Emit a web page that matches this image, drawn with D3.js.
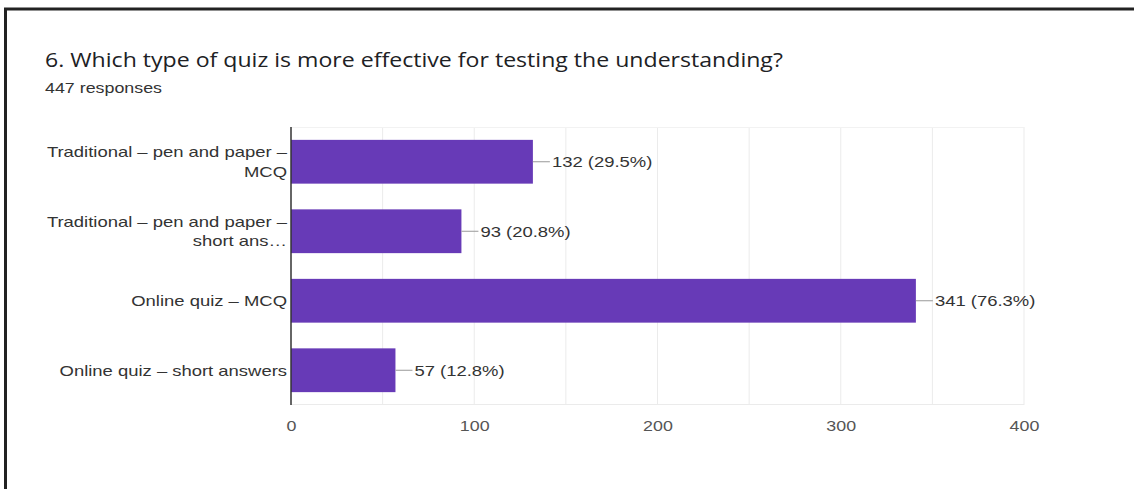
<!DOCTYPE html>
<html>
<head>
    <meta charset="utf-8">
    <title>Quiz type survey</title>
    <script src="https://d3js.org/d3.v7.min.js"></script>
    <style>
        html, body { margin: 0; padding: 0; background: #fff; }
        svg { display: block; font-family: "Liberation Sans", Arial, sans-serif; }
    </style>
</head>
<body>
    <svg id="chart" width="1134" height="489"></svg>
    <script>
        // data
        var categories = [
            ["Traditional \u2013 pen and paper \u2013", "MCQ"],
            ["Traditional \u2013 pen and paper \u2013", "short ans\u2026"],
            ["Online quiz \u2013 MCQ"],
            ["Online quiz \u2013 short answers"]
        ];
        var counts = [132, 93, 341, 57];
        var percents = ["29.5%", "20.8%", "76.3%", "12.8%"];
        var ticks = [0, 100, 200, 300, 400];
        var title = "6. Which type of quiz is more effective for testing the understanding?";
        var subtitle = "447 responses";

        // the screenshot is a bit stretched sideways, text gets the same stretch
        var SX = 1.23;

        var svg = d3.select("#chart");

        function place(x, y, sx) {
            return "translate(" + x + "," + y + ") scale(" + sx + ",1)";
        }

        // photo frame
        svg.append("line").attr("x1", 4).attr("x2", 1134).attr("y1", 9).attr("y2", 9)
            .attr("stroke", "#222").attr("stroke-width", 3);
        svg.append("line").attr("x1", 5.5).attr("x2", 5.5).attr("y1", 8).attr("y2", 489)
            .attr("stroke", "#222").attr("stroke-width", 3);

        svg.append("text").attr("transform", place(45, 67, 1.155)).text(title)
            .attr("font-family", "'Open Sans', sans-serif")
            .attr("font-size", "20px").attr("fill", "#202124");
        svg.append("text").attr("transform", place(45, 93, SX)).text(subtitle)
            .attr("font-size", "14.5px").attr("fill", "#333");

        var plotL = 291, plotR = 1024, plotT = 127, plotB = 405;

        var x = d3.scaleLinear().domain([0, 400]).range([plotL, plotR]);
        var y = d3.scaleBand().domain(d3.range(counts.length)).range([plotT, plotB])
            .paddingInner(0.37).paddingOuter(0.185);

        // grid every 50
        var grid = d3.range(50, 401, 50);
        svg.selectAll(".grid").data(grid).enter().append("line")
            .attr("class", "grid")
            .attr("x1", function(d) { return x(d); })
            .attr("x2", function(d) { return x(d); })
            .attr("y1", plotT).attr("y2", plotB)
            .attr("stroke", "#ebebeb").attr("stroke-width", 1);
        svg.append("line").attr("x1", plotL).attr("x2", plotR).attr("y1", plotT + 0.5).attr("y2", plotT + 0.5)
            .attr("stroke", "#f2f2f2");
        svg.append("line").attr("x1", plotL).attr("x2", plotR).attr("y1", plotB - 0.5).attr("y2", plotB - 0.5)
            .attr("stroke", "#ebebeb");

        // x axis labels
        var xAxis = d3.axisBottom(x).tickValues(ticks).tickSize(0).tickPadding(0);
        var ax = svg.append("g").attr("transform", "translate(0," + (plotB + 16) + ")").call(xAxis);
        ax.select(".domain").remove();
        ax.selectAll("text").attr("font-size", "14.5px").attr("fill", "#555").attr("font-family", null)
            .attr("transform", "scale(" + SX + ",1)");

        // bars
        svg.selectAll(".bar").data(counts).enter().append("rect")
            .attr("class", "bar")
            .attr("x", x(0))
            .attr("y", function(d, i) { return y(i); })
            .attr("width", function(d) { return x(d) - x(0); })
            .attr("height", y.bandwidth())
            .attr("fill", "#673ab7");

        // value labels with leader line
        counts.forEach(function(d, i) {
            var cy = y(i) + y.bandwidth() / 2;
            svg.append("line").attr("x1", x(d)).attr("x2", x(d) + 17)
                .attr("y1", cy).attr("y2", cy).attr("stroke", "#999");
            svg.append("text").attr("transform", place(x(d) + 19, cy, SX)).attr("dy", "0.35em")
                .attr("font-size", "15px").attr("fill", "#333")
                .text(d + " (" + percents[i] + ")");
        });

        // category labels
        categories.forEach(function(lines, i) {
            var cy = y(i) + y.bandwidth() / 2;
            var t = svg.append("text").attr("text-anchor", "end")
                .attr("transform", place(plotL - 4, cy, SX))
                .attr("font-size", "15px").attr("fill", "#333");
            lines.forEach(function(s, k) {
                t.append("tspan").attr("x", 0)
                    .attr("y", (k - (lines.length - 1) / 2) * 20)
                    .attr("dy", "0.35em").text(s);
            });
        });

        // y axis line
        svg.append("line").attr("x1", plotL).attr("x2", plotL).attr("y1", plotT).attr("y2", plotB)
            .attr("stroke", "#333").attr("stroke-width", 1.5);
    </script>
</body>
</html>
